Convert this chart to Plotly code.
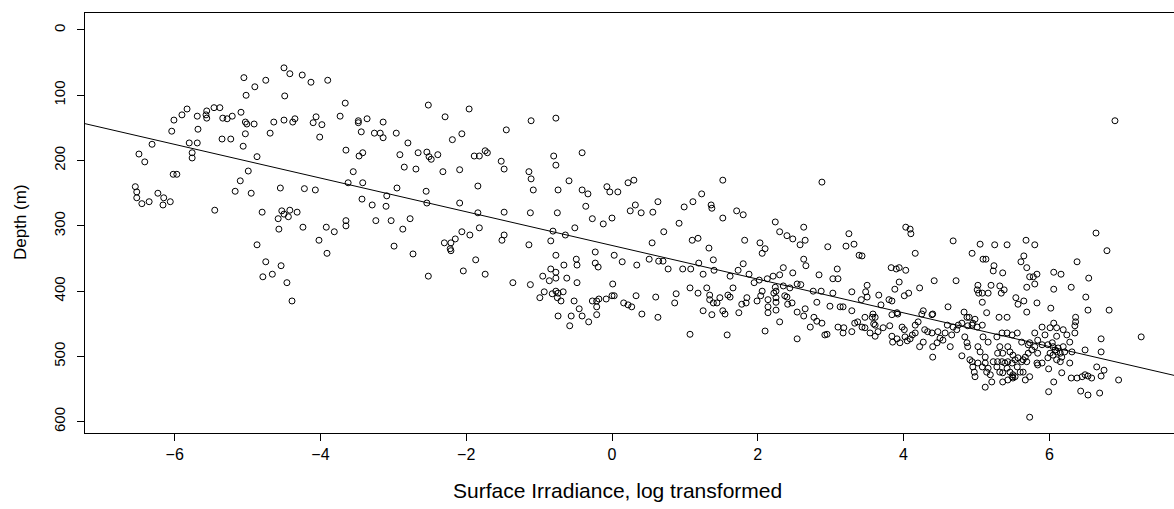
import plotly.graph_objects as go

# Surface irradiance (log transformed) vs. depth (m), grouped by irradiance band
band_a = [(-4.50, 58), (-4.42, 67), (-4.25, 69), (-5.05, 73), (-4.75, 77), (-4.90, 87), (-5.02, 100),
          (-4.49, 101), (-5.83, 121), (-5.46, 119), (-5.38, 119), (-5.90, 130), (-6.01, 138), (-5.69, 132),
          (-5.56, 124), (-5.57, 130), (-5.56, 135), (-5.34, 135), (-5.28, 136), (-5.21, 132), (-5.09, 126),
          (-5.03, 141), (-5.01, 144), (-4.91, 144), (-4.64, 141), (-4.50, 138), (-4.38, 141), (-4.35, 136),
          (-6.04, 155), (-5.68, 152), (-5.03, 159), (-4.69, 158), (-5.35, 167), (-5.23, 167), (-6.31, 175),
          (-5.80, 173), (-5.69, 173), (-5.06, 178), (-6.49, 190), (-6.41, 202), (-5.76, 188), (-5.76, 196),
          (-4.87, 194), (-4.99, 216), (-6.02, 221), (-5.97, 221), (-5.10, 231), (-5.17, 247), (-4.95, 250),
          (-4.55, 242), (-6.54, 240), (-6.52, 248), (-6.52, 257), (-6.45, 266), (-6.35, 263), (-6.23, 250),
          (-6.15, 257), (-6.16, 268), (-6.06, 263), (-5.45, 276), (-4.80, 279), (-4.58, 289), (-4.53, 277),
          (-4.50, 282), (-4.44, 286), (-4.42, 276), (-4.32, 279), (-4.57, 305), (-4.87, 329), (-4.75, 355),
          (-4.54, 361), (-4.79, 378), (-4.66, 374), (-4.46, 387), (-4.39, 415)]

band_b = [(-4.13, 80), (-3.90, 77), (-3.66, 112), (-4.06, 133), (-4.10, 142), (-3.98, 145), (-4.01, 164),
          (-3.73, 132), (-3.48, 139), (-3.48, 142), (-3.36, 136), (-3.44, 156), (-3.26, 158), (-3.18, 158),
          (-3.14, 141), (-3.14, 165), (-2.96, 158), (-2.52, 115), (-2.29, 133), (-1.96, 121), (-2.06, 159),
          (-2.19, 168), (-2.80, 173), (-2.91, 191), (-2.66, 188), (-2.54, 187), (-2.51, 194), (-2.48, 198),
          (-2.39, 191), (-1.89, 193), (-1.82, 193), (-1.74, 185), (-1.71, 188), (-3.65, 184), (-3.42, 188),
          (-3.47, 193), (-2.85, 210), (-2.69, 213), (-2.32, 217), (-2.09, 214), (-3.55, 217), (-3.62, 234),
          (-3.42, 234), (-4.22, 243), (-4.07, 245), (-2.95, 242), (-2.55, 247), (-1.84, 239), (-3.09, 254),
          (-3.43, 259), (-3.29, 268), (-3.10, 270), (-2.54, 265), (-2.09, 265), (-1.84, 280), (-3.65, 292),
          (-3.65, 300), (-3.24, 292), (-3.03, 292), (-2.77, 289), (-2.87, 305), (-4.24, 302), (-3.92, 302),
          (-3.81, 309), (-4.02, 322), (-3.91, 342), (-2.99, 331), (-2.73, 343), (-2.52, 377), (-2.30, 326),
          (-2.21, 326), (-2.15, 320), (-2.22, 335), (-2.21, 338), (-2.06, 309), (-1.95, 314), (-1.82, 303),
          (-1.87, 352), (-2.04, 369)]

band_c = [(-0.77, 135), (-1.11, 139), (-1.45, 153), (-0.80, 193), (-0.77, 207), (-0.41, 188), (-1.52, 201),
          (-1.48, 213), (-1.14, 217), (-1.11, 228), (-1.08, 245), (-0.74, 245), (-0.59, 231), (-0.41, 245),
          (-0.33, 251), (-0.07, 240), (-0.03, 248), (0.08, 248), (0.22, 234), (0.30, 230), (-0.36, 270),
          (0.32, 268), (0.25, 277), (0.40, 280), (0.56, 279), (0.63, 263), (-0.27, 289), (-0.12, 297),
          (0.00, 288), (-1.48, 279), (-1.12, 280), (-0.75, 280), (-1.48, 314), (-1.51, 322), (-1.14, 329),
          (-0.81, 308), (-0.64, 314), (-0.51, 303), (-0.84, 323), (0.55, 326), (-0.77, 345), (-0.66, 360),
          (-0.49, 351), (-0.48, 360), (-0.23, 340), (-0.23, 357), (-0.19, 363), (0.03, 345), (0.14, 355),
          (0.34, 360), (0.51, 351), (0.64, 354), (-0.84, 366), (-0.77, 371), (-0.95, 377), (-0.62, 380),
          (-0.77, 380), (-0.86, 384), (-1.74, 374), (-1.36, 387), (-1.12, 390), (-0.48, 387), (0.01, 389),
          (-0.99, 410), (-0.93, 401), (-0.82, 404), (-0.77, 400), (-0.74, 403), (-0.75, 410), (-0.70, 415),
          (-0.67, 401), (-0.52, 415), (-0.74, 438), (-0.56, 438), (-0.58, 453), (-0.45, 427), (-0.41, 438),
          (-0.32, 447), (-0.27, 415), (-0.21, 415), (-0.18, 412), (-0.21, 424), (-0.21, 436), (-0.08, 412),
          (0.00, 407), (0.03, 407), (0.16, 418), (0.22, 421), (0.27, 424), (0.33, 407), (0.41, 435),
          (0.60, 409), (0.63, 440)]

band_d = [(1.52, 230), (2.88, 233), (1.23, 251), (1.11, 263), (0.99, 271), (1.36, 268), (1.37, 273),
          (1.71, 277), (1.80, 283), (1.52, 288), (0.92, 296), (2.24, 294), (0.71, 309), (2.30, 309),
          (2.40, 315), (2.48, 320), (2.63, 302), (2.65, 322), (2.58, 329), (1.10, 322), (1.18, 319),
          (1.82, 322), (2.03, 326), (2.10, 335), (2.06, 342), (1.33, 334), (1.39, 352), (0.70, 354),
          (0.77, 366), (0.97, 366), (1.08, 366), (1.19, 357), (1.25, 374), (1.40, 368), (1.62, 377),
          (1.73, 368), (1.80, 358), (1.88, 374), (1.95, 387), (2.02, 383), (2.13, 381), (2.21, 377),
          (2.30, 375), (2.35, 364), (2.48, 372), (2.63, 351), (2.66, 361), (2.84, 375), (2.54, 389),
          (2.59, 390), (2.24, 394), (2.25, 400), (2.35, 392), (2.44, 395), (2.76, 400), (2.87, 400),
          (1.07, 395), (1.18, 403), (1.30, 395), (1.34, 406), (1.34, 413), (1.39, 418), (1.44, 418),
          (1.48, 410), (1.59, 406), (1.62, 409), (1.66, 395), (0.88, 404), (0.86, 418), (1.85, 410),
          (1.78, 420), (1.84, 418), (1.99, 415), (2.04, 407), (2.06, 400), (2.14, 413), (2.22, 403),
          (2.25, 410), (2.25, 417), (2.25, 429), (2.37, 407), (2.40, 409), (2.47, 418), (2.41, 420),
          (2.81, 417), (2.14, 424), (2.14, 433), (2.54, 432), (2.65, 427), (1.25, 430), (1.37, 436),
          (1.52, 430), (1.55, 435), (1.74, 433), (2.63, 438), (2.77, 440), (1.07, 466), (1.58, 467),
          (2.10, 461), (2.30, 447), (2.54, 473), (2.72, 455), (2.81, 446), (2.88, 449), (2.92, 467)]

band_e = [(4.03, 302), (4.09, 305), (4.10, 312), (3.25, 312), (2.96, 332), (3.21, 331), (3.32, 328),
          (3.39, 345), (3.43, 346), (4.16, 342), (4.68, 323), (5.05, 328), (5.25, 329), (4.94, 342),
          (5.09, 351), (5.13, 351), (5.24, 361), (5.23, 369), (3.09, 366), (3.03, 381), (3.10, 381),
          (3.83, 364), (3.90, 366), (3.94, 364), (4.03, 368), (3.50, 391), (3.48, 401), (3.50, 409),
          (3.42, 413), (3.29, 401), (3.03, 403), (3.66, 406), (3.80, 413), (3.84, 415), (3.69, 421),
          (3.88, 397), (3.94, 386), (4.01, 407), (4.07, 403), (4.22, 395), (4.42, 384), (4.72, 384),
          (5.02, 391), (5.01, 398), (5.03, 403), (5.08, 403), (5.16, 403), (5.20, 391), (5.08, 417),
          (5.14, 433), (2.99, 423), (3.13, 424), (3.17, 424), (3.29, 430), (3.58, 435), (3.47, 440),
          (3.57, 440), (3.61, 440), (3.84, 436), (3.91, 433), (3.92, 435), (4.27, 430), (4.25, 435),
          (4.39, 436), (4.40, 435), (4.61, 424), (4.83, 432), (4.87, 440), (4.90, 440), (4.98, 443),
          (2.95, 466), (3.10, 455), (3.18, 456), (3.17, 464), (3.29, 462), (3.33, 449), (3.37, 447),
          (3.43, 455), (3.47, 456), (3.54, 464), (3.59, 450), (3.61, 452), (3.61, 469), (3.65, 462),
          (3.72, 456), (3.81, 453), (3.84, 469), (3.85, 478), (3.91, 473), (3.95, 479), (3.98, 455),
          (4.01, 459), (4.02, 470), (4.05, 476), (4.09, 473), (4.12, 467), (4.16, 464), (4.16, 452),
          (4.20, 447), (4.22, 485), (4.27, 478), (4.29, 459), (4.33, 462), (4.39, 464), (4.40, 485),
          (4.40, 501), (4.46, 479), (4.47, 462), (4.50, 472), (4.54, 475), (4.57, 464), (4.60, 452),
          (4.64, 485), (4.66, 467), (4.68, 455), (4.73, 459), (4.75, 452), (4.80, 449), (4.80, 499),
          (4.84, 470), (4.87, 479), (4.88, 485), (4.88, 453), (4.94, 452), (4.95, 449), (5.01, 455),
          (5.02, 485), (5.05, 493), (5.08, 452), (5.09, 470), (5.12, 501), (5.16, 478), (4.91, 505),
          (4.94, 508), (4.95, 516), (4.97, 524), (4.98, 531), (5.02, 510), (5.08, 516), (5.12, 510),
          (5.14, 524), (5.16, 518), (5.19, 528), (5.21, 539), (5.12, 547), (5.23, 508)]

band_f = [(6.90, 139), (6.64, 311), (6.79, 338), (6.38, 355), (5.68, 322), (5.80, 329), (5.42, 329),
          (5.65, 346), (5.61, 355), (5.69, 364), (5.36, 372), (5.73, 378), (5.78, 378), (5.83, 374),
          (5.80, 389), (5.69, 394), (6.06, 371), (6.16, 374), (6.06, 397), (6.30, 394), (6.54, 380),
          (5.32, 392), (5.34, 403), (5.38, 398), (5.54, 410), (5.57, 420), (5.65, 415), (5.83, 418),
          (5.69, 432), (6.02, 426), (6.50, 409), (6.53, 429), (6.82, 429), (6.36, 440), (5.31, 440),
          (5.42, 440), (7.26, 470), (6.71, 473), (6.71, 493), (6.49, 490), (6.65, 516), (6.75, 521),
          (6.71, 530), (6.95, 536), (6.30, 533), (6.38, 533), (6.45, 531), (6.49, 528), (6.53, 530),
          (6.58, 533), (6.43, 553), (6.53, 559), (6.69, 556), (5.99, 554), (6.06, 539), (6.17, 525),
          (5.73, 593), (5.90, 455), (6.01, 456), (6.06, 449), (6.10, 456), (6.19, 459), (6.35, 453),
          (6.36, 447), (5.94, 467), (6.10, 469), (6.24, 467), (6.35, 464), (6.28, 478), (6.31, 493),
          (6.28, 510), (5.98, 482), (6.04, 479), (6.05, 485), (6.08, 490), (6.10, 493), (6.12, 487),
          (6.15, 495), (6.17, 501), (6.05, 498), (6.01, 495), (5.98, 502), (6.10, 505), (6.15, 508),
          (6.19, 485), (6.21, 493), (5.99, 519), (5.80, 464), (5.84, 475), (5.90, 482), (5.80, 485),
          (5.84, 495), (5.84, 513), (5.83, 510), (5.90, 510), (5.76, 490), (5.71, 482), (5.71, 495),
          (5.67, 501), (5.69, 508), (5.73, 479), (5.62, 478), (5.56, 464), (5.49, 467), (5.42, 464),
          (5.35, 464), (5.28, 470), (5.32, 485), (5.36, 495), (5.29, 495), (5.43, 485), (5.46, 493),
          (5.50, 498), (5.53, 505), (5.57, 502), (5.62, 508), (5.64, 505), (5.49, 510), (5.43, 508),
          (5.39, 510), (5.35, 508), (5.29, 508), (5.32, 524), (5.36, 525), (5.46, 524), (5.50, 528),
          (5.49, 531), (5.50, 533), (5.53, 531), (5.43, 536), (5.36, 539), (5.64, 524), (5.67, 536),
          (5.73, 531), (5.60, 524), (5.56, 516), (5.42, 518), (5.28, 516)]

bands = [band_a, band_b, band_c, band_d, band_e, band_f]

# Least-squares fit drawn across the panel: depth = intercept + slope * irradiance
fit_intercept = 330.0
fit_slope = 25.8

x_range = [-7.23, 7.71]
y_range = [617.2, -26.0]          # depth increases downward
x_ticks = [-6, -4, -2, 0, 2, 4, 6]
y_ticks = [0, 100, 200, 300, 400, 500, 600]

x_title = "Surface Irradiance, log transformed"
y_title = "Depth (m)"

font_family = "Liberation Sans, Arial, sans-serif"

irradiance = [p[0] for b in bands for p in b]
depth = [p[1] for b in bands for p in b]

fig = go.Figure()

fig.add_trace(go.Scatter(
    x=irradiance, y=depth, mode="markers",
    marker=dict(symbol="circle-open", size=6, color="black", line=dict(width=1)),
    hoverinfo="x+y", showlegend=False,
))

fig.add_trace(go.Scatter(
    x=x_range,
    y=[fit_intercept + fit_slope * v for v in x_range],
    mode="lines", line=dict(color="black", width=1),
    hoverinfo="skip", showlegend=False,
))

axis_common = dict(
    showgrid=False, zeroline=False, showline=True, linecolor="black", linewidth=1,
    ticks="outside", ticklen=7, tickwidth=1, tickcolor="black",
    autorange=False,
)

fig.update_xaxes(range=x_range, tickvals=x_ticks, mirror=True, ticklabelstandoff=0,
                 tickfont=dict(family=font_family, size=16, color="black"), **axis_common)
fig.update_yaxes(range=y_range, tickvals=y_ticks, tickangle=-90, ticklabelstandoff=6,
                 tickfont=dict(family=font_family, size=15, color="black"), **axis_common)

W, H = 1174, 509
L, R, T, B = 85, 0, 13, 76
plot_w, plot_h = W - L - R, H - T - B

def px_to_paper_x(px):
    return (px - L) / plot_w

def px_to_paper_y(py):
    return (H - B - py) / plot_h

fig.add_annotation(
    text=x_title, xref="paper", yref="paper",
    x=px_to_paper_x(617), y=px_to_paper_y(490),
    xanchor="center", yanchor="middle", showarrow=False,
    font=dict(family=font_family, size=21, color="black"),
)
fig.add_annotation(
    text=y_title, xref="paper", yref="paper",
    x=px_to_paper_x(20), y=px_to_paper_y(222), textangle=-90,
    xanchor="center", yanchor="middle", showarrow=False,
    font=dict(family=font_family, size=17, color="black"),
)

fig.update_layout(
    width=W, height=H,
    margin=dict(l=L, r=R, t=T, b=B, pad=0),
    paper_bgcolor="white", plot_bgcolor="white",
    font=dict(family=font_family, color="black"),
)

fig.write_html("out.html")
